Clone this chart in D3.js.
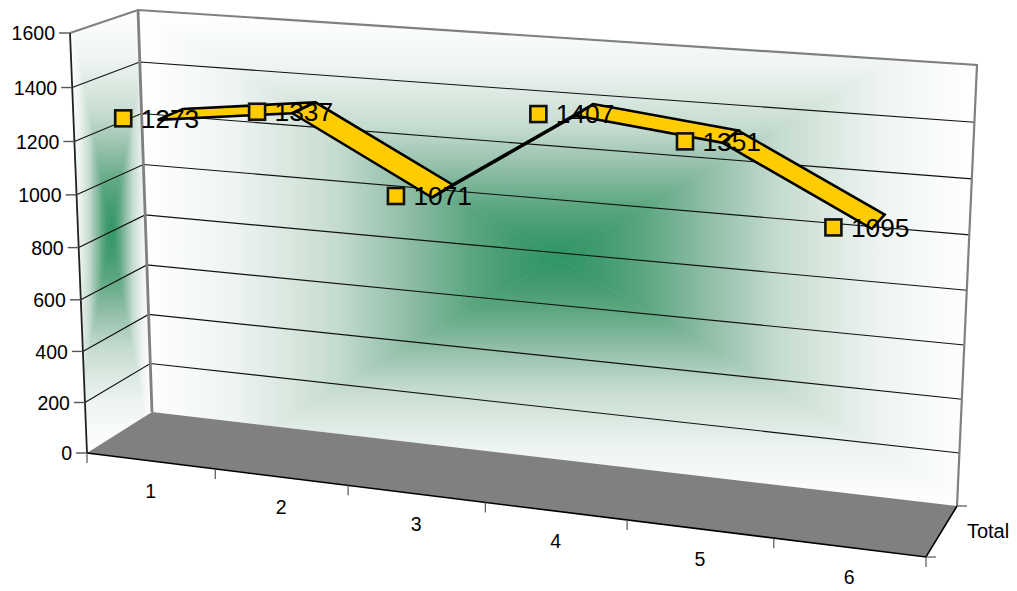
<!DOCTYPE html>
<html><head><meta charset="utf-8">
<script src="https://cdnjs.cloudflare.com/ajax/libs/d3/7.8.5/d3.min.js"></script>
<style>html,body{margin:0;background:#fff}svg{display:block}text{font-family:"Liberation Sans",Arial,sans-serif;fill:#000}</style>
</head><body><svg id="c" width="1017" height="591"></svg>
<script>
const categories=["1","2","3","4","5","6"];
const seriesName="Total";
const values=[1273,1337,1071,1407,1351,1095];
const valueTicks=[0,200,400,600,800,1000,1200,1400,1600];

const svg=d3.select("#c");
const defs=svg.append("defs");

// box corners on screen: bottom/top, front/back, left/right
const box={fbl:[87,453],ftl:[70,33],bbl:[152,412],btl:[138,10],bbr:[957,506],btr:[977,65],fbr:[926,557],ftr:[949,95]};
function homography(p0,p1,p2,p3){
  const dx1=p1[0]-p2[0],dx2=p3[0]-p2[0],sx=p0[0]-p1[0]+p2[0]-p3[0];
  const dy1=p1[1]-p2[1],dy2=p3[1]-p2[1],sy=p0[1]-p1[1]+p2[1]-p3[1];
  const det=dx1*dy2-dx2*dy1,g=(sx*dy2-dx2*sy)/det,h=(dx1*sy-sx*dy1)/det;
  const a=p1[0]-p0[0]+g*p1[0],b=p3[0]-p0[0]+h*p3[0],d=p1[1]-p0[1]+g*p1[1],e=p3[1]-p0[1]+h*p3[1];
  return (u,v)=>{const w=g*u+h*v+1;return[(a*u+b*v+p0[0])/w,(d*u+e*v+p0[1])/w];};
}
// slightly flatter foreshortening along the category axis
const bow=u=>u+.004*Math.sin(Math.PI*u);
const planeB=homography(box.bbl,box.bbr,box.btr,box.btl);
const planeF=homography(box.fbl,box.fbr,box.ftr,box.ftl);
const planeFl=homography(box.fbl,box.fbr,box.bbr,box.bbl);
const backPlane=(u,v)=>planeB(bow(u),v);
const frontPlane=(u,v)=>planeF(bow(u),v);
const floorPlane=(u,v)=>planeFl(bow(u),v);

const yScale=d3.scaleLinear().domain([0,1600]).range([0,1]);
const xScale=d3.scalePoint().domain(categories).range([0,1]).padding(0.5);
const xBand=d3.scaleBand().domain(categories).range([0,1]);
const project=(x,v,z)=>{const f=frontPlane(x,v),b=backPlane(x,v);return[f[0]+(b[0]-f[0])*z,f[1]+(b[1]-f[1])*z];};

const line=d3.line();

// "from centre" rectangular gradient over the screen bounding box of a wall, clipped to the wall
const stops=[[0,"#2e9563"],[.1,"#419b70"],[.21,"#5ca780"],[.36,"#90bea7"],[.53,"#c6dcd0"],[.77,"#eef4f1"],[.9,"#f8fbf9"],[1,"#ffffff"]];
let gid=0;
function fromCenter(wall){
  const xs=d3.extent(wall,d=>d[0]),ys=d3.extent(wall,d=>d[1]);
  const c=[(xs[0]+xs[1])/2,(ys[0]+ys[1])/2];
  const clip="w"+(gid++);
  defs.append("clipPath").attr("id",clip).append("path").attr("d",line(wall)+"Z");
  const g=svg.append("g").attr("clip-path",`url(#${clip})`);
  const rect=[[xs[0],ys[0]],[xs[1],ys[0]],[xs[1],ys[1]],[xs[0],ys[1]]];
  const feet=[[c[0],ys[0]],[xs[1],c[1]],[c[0],ys[1]],[xs[0],c[1]]];
  rect.forEach((a,i)=>{
    const b=rect[(i+1)%4],id="g"+(gid++);
    defs.append("linearGradient").attr("id",id).attr("gradientUnits","userSpaceOnUse")
      .attr("x1",c[0]).attr("y1",c[1]).attr("x2",feet[i][0]).attr("y2",feet[i][1])
      .selectAll("stop").data(stops).join("stop").attr("offset",d=>d[0]).attr("stop-color",d=>d[1]);
    g.append("path").attr("d",line([a,b,c])+"Z").attr("fill",`url(#${id})`).attr("stroke",`url(#${id})`).attr("stroke-width",.6);
  });
}
fromCenter([box.btl,box.btr,box.bbr,box.bbl]);
fromCenter([box.ftl,box.btl,box.bbl,box.fbl]);

// floor
svg.append("path").attr("d",line([box.fbl,box.fbr,box.bbr,box.bbl])+"Z").attr("fill","#808080");

// gridlines
const grid=valueTicks.slice(1,-1);
svg.append("g").selectAll("path").data(grid).join("path")
  .attr("d",v=>line([frontPlane(0,yScale(v)),backPlane(0,yScale(v)),backPlane(1,yScale(v))]))
  .attr("fill","none").attr("stroke","#111").attr("stroke-width",1.1);

// walls outline
svg.append("path").attr("d",line([box.ftl,box.btl,box.btr,box.bbr])).attr("fill","none").attr("stroke","#808080").attr("stroke-width",2.2);
svg.append("path").attr("d",line([box.btl,box.bbl])).attr("fill","none").attr("stroke","#808080").attr("stroke-width",2.8);
svg.append("path").attr("d",line([box.ftl,box.fbl])).attr("fill","none").attr("stroke","#222").attr("stroke-width",1.8);
svg.append("path").attr("d",line([box.fbl,box.fbr,box.bbr])).attr("fill","none").attr("stroke","#000").attr("stroke-width",1.6);

// y ticks
const yAxis=svg.append("g");
yAxis.selectAll("path").data(valueTicks).join("path")
  .attr("d",v=>{const p=frontPlane(0,yScale(v));return line([[p[0]-11,p[1]],p]);})
  .attr("stroke","#555").attr("stroke-width",1.4);
yAxis.selectAll("text").data(valueTicks).join("text")
  .attr("x",v=>frontPlane(0,yScale(v))[0]-15).attr("y",v=>frontPlane(0,yScale(v))[1]+.5)
  .attr("dy","0.35em").attr("text-anchor","end").attr("font-size",19.5).text(v=>v);

// x ticks
const xEdges=[...categories.map(c=>xBand(c)),1];
const xAxis=svg.append("g");
xAxis.selectAll("path").data(xEdges).join("path")
  .attr("d",x=>{const p=floorPlane(x,0);return line([p,[p[0],p[1]+10]]);})
  .attr("stroke","#555").attr("stroke-width",1.2);
xAxis.selectAll("text").data(categories).join("text")
  .attr("x",c=>floorPlane(xScale(c),0)[0]).attr("y",c=>floorPlane(xScale(c),0)[1]+30)
  .attr("dy","0.35em").attr("text-anchor","middle").attr("font-size",19.5).text(c=>c);

// depth axis
[box.bbr,box.fbr].forEach(p=>svg.append("path").attr("d",line([p,[p[0]+10,p[1]]])).attr("stroke","#555").attr("stroke-width",1.2));
const dm=floorPlane(1,.5);
svg.append("text").attr("x",dm[0]+25).attr("y",dm[1]).attr("dy","0.35em").attr("font-size",20).text(seriesName);

// ribbon
const zFront=.27,zBack=.66;
const pts=categories.map((c,i)=>({c,v:values[i],f:project(xScale(c),yScale(values[i]),zFront),b:project(xScale(c),yScale(values[i]),zBack)}));
svg.append("g").selectAll("path").data(d3.pairs(pts)).join("path")
  .attr("d",([p,q])=>line([p.f,q.f,q.b,p.b])+"Z")
  .attr("fill","#ffcc00").attr("stroke","#000").attr("stroke-width",2.6).attr("stroke-linejoin","miter");

// markers and value labels
const shift=d3.scaleLinear().domain([0,categories.length-1]).range([-34.5,-38.5]);
const mk=pts.map((p,i)=>({v:p.v,x:p.f[0]+shift(i),y:p.f[1]-1.5}));
svg.append("g").selectAll("rect").data(mk).join("rect")
  .attr("x",d=>d.x-8).attr("y",d=>d.y-8).attr("width",16).attr("height",16)
  .attr("fill","#ffcc00").attr("stroke","#111").attr("stroke-width",2.6);
svg.append("g").selectAll("text").data(mk).join("text")
  .attr("x",d=>d.x+17.5).attr("y",d=>d.y).attr("dy","0.35em").attr("font-size",26.3).text(d=>d.v);
</script></body></html>
